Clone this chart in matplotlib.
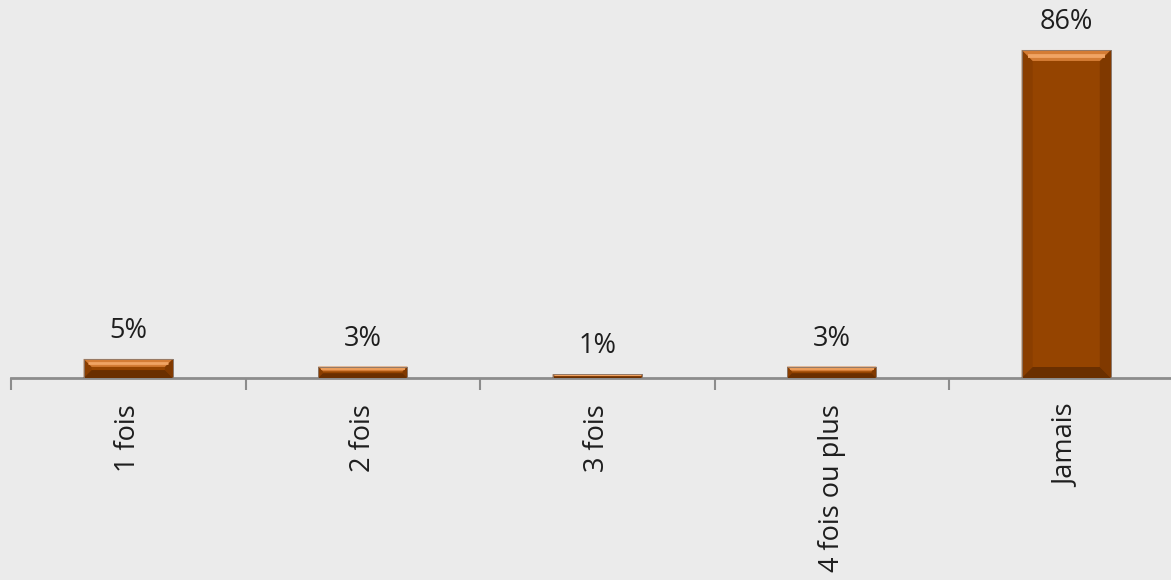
import matplotlib.pyplot as plt
from matplotlib.patches import Polygon

categories = ["1 fois", "2 fois", "3 fois", "4 fois ou plus", "Jamais"]
values = [5, 3, 1, 3, 86]
value_labels = ["5%", "3%", "1%", "3%", "86%"]

plt.rcParams["font.family"] = ["Open Sans", "DejaVu Sans"]

W, H = 1171, 580
fig = plt.figure(figsize=(W / 100, H / 100), dpi=100)
fig.patch.set_facecolor("#ebebeb")

# axes: baseline 378 px from the top, each category slot ~234.5 px wide
slot = 234.5
base_px = 378
ax = fig.add_axes([11 / W, (H - base_px) / H, 5 * slot / W, base_px / H])
ax.set_facecolor("none")

x = list(range(len(categories)))
bars = ax.bar(x, values, width=0.38, color="#954400",
              edgecolor="#8a7a70", linewidth=0.6, zorder=2)
ax.set_xlim(-0.5, len(categories) - 0.5)
ymax = 99.1
ax.set_ylim(0, ymax)

# bevel facets, sized in pixels then converted to data units
ppx = slot
ppy = base_px / ymax
for b in bars:
    x0, w, h = b.get_x(), b.get_width(), b.get_height()
    x1 = x0 + w
    d = min(11.0, h * ppy / 2.4)
    dx, dy = d / ppx, d / ppy
    facets = [
        ([(x0, 0), (x0, h), (x0 + dx, h - dy), (x0 + dx, dy)], "#8a3e00"),
        ([(x1, 0), (x1, h), (x1 - dx, h - dy), (x1 - dx, dy)], "#803900"),
        ([(x0, 0), (x1, 0), (x1 - dx, dy), (x0 + dx, dy)], "#6a2f00"),
        ([(x0, h), (x1, h), (x1 - dx, h - dy), (x0 + dx, h - dy)], "#d47c34"),
    ]
    for pts, c in facets:
        ax.add_patch(Polygon(pts, closed=True, facecolor=c, edgecolor="none", zorder=3))
    yl = h - dy * 0.55
    ax.plot([x0 + dx * 0.55, x1 - dx * 0.55], [yl, yl], color="#f0a464",
            lw=max(0.8, d * 0.25), solid_capstyle="butt", zorder=4)
    ax.add_patch(plt.Rectangle((x0, 0), w, h, facecolor="none",
                               edgecolor="#8a7a70", linewidth=0.6, zorder=5))

for b, lab in zip(bars, value_labels):
    ax.annotate(lab, (b.get_x() + b.get_width() / 2, b.get_height()),
                xytext=(0, 28), textcoords="offset pixels",
                ha="center", va="center", fontsize=19.5, color="#1e1e1e")

for s in ["top", "left", "right"]:
    ax.spines[s].set_visible(False)
ax.spines["bottom"].set_color("#8c8c8c")
ax.spines["bottom"].set_linewidth(2)
ax.set_yticks([])

ax.set_xticks(x)
ax.set_xticklabels(categories, rotation=90, fontsize=19.5, color="#1e1e1e")
ax.tick_params(axis="x", which="major", length=0, pad=19)
ax.set_xticks([i - 0.5 for i in x], minor=True)
ax.tick_params(axis="x", which="minor", length=8.6, width=1.5, color="#8c8c8c")

fig.savefig("out.png", dpi=100, facecolor=fig.get_facecolor())
